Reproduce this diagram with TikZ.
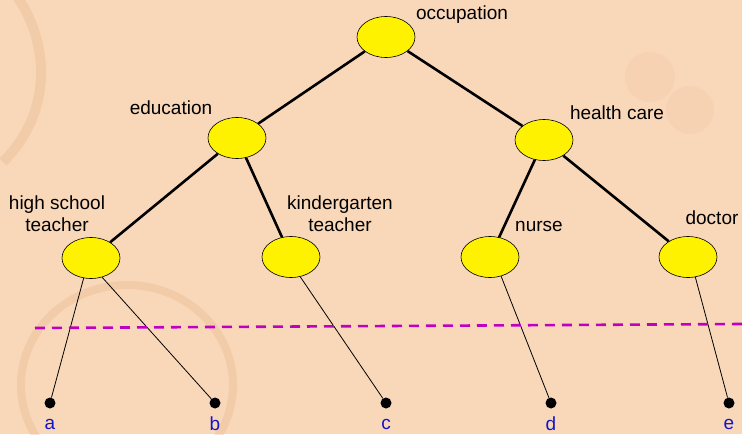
\documentclass[tikz,border=0pt]{standalone}
\usepackage{fontspec}
\setmainfont{Liberation Sans}
\usetikzlibrary{shapes.geometric}
\definecolor{bgc}{HTML}{F9D8BA}
\definecolor{stain}{HTML}{E5B085}
\definecolor{leafblue}{HTML}{1414C8}
\definecolor{cutline}{HTML}{C000C0}
\tikzset{
  cat/.style={ellipse, draw=black, line width=0.6pt, fill=yellow, minimum width=58pt, minimum height=41pt, inner sep=0pt},
  lbl/.style={font=\fontsize{19}{22}\selectfont, text=black, align=center, inner sep=0pt},
  leaf/.style={circle, fill=black, minimum size=11pt, inner sep=0pt},
  leaflbl/.style={font=\fontsize{19}{22}\selectfont, text=leafblue, inner sep=0pt},
  thick edge/.style={line width=2.6pt, black},
  thin edge/.style={line width=0.8pt, black},
  stainline/.style={draw=stain, opacity=0.32}
}
\begin{document}
\begin{tikzpicture}[x=1pt,y=-1pt]
\useasboundingbox (0,0) rectangle (742,434);
\clip (0,0) rectangle (742,434);
\fill[bgc] (0,0) rectangle (742,434);
% stains
\draw[stainline, line width=10pt] (16,-5) .. controls (48,40) and (55,110) .. (3,162);
\draw[stainline, line width=8pt] (127,385) ellipse (106 and 100);
\fill[stain, opacity=0.15] (650,77) circle (25);
\fill[stain, opacity=0.15] (690,110) circle (24);
% category nodes
\node[cat] (occ) at (386,37) {};
\node[cat] (edu) at (237,138) {};
\node[cat] (hc) at (544,140) {};
\node[cat] (hst) at (91,258) {};
\node[cat] (kg) at (291,257) {};
\node[cat] (nur) at (490,257) {};
\node[cat] (doc) at (688,257) {};
% labels
\node[lbl] (occl) at (462,15) {occupation};
\node[lbl] (edul) at (171,108) {education};
\node[lbl] (hcl) at (617,113) {health care};
\node[lbl] (hstl) at (57,214) {high school\\teacher};
\node[lbl] (kgl) at (340,214) {kindergarten\\teacher};
\node[lbl] (nurl) at (539,226) {nurse};
\node[lbl] (docl) at (712,218) {doctor};
% leaves
\node[leaf] (a) at (50,403) {};
\node[leaf] (b) at (215,403) {};
\node[leaf] (c) at (386,403) {};
\node[leaf] (d) at (551,403) {};
\node[leaf] (e) at (729,403) {};
\node[leaflbl] (al) at (50,424) {a};
\node[leaflbl] (bl) at (215,424) {b};
\node[leaflbl] (cl) at (386,424) {c};
\node[leaflbl] (dl) at (551,424) {d};
\node[leaflbl] (el) at (729,424) {e};
% thick edges
\draw[thick edge] (occ) -- (edu);
\draw[thick edge] (occ) -- (hc);
\draw[thick edge] (edu) -- (hst);
\draw[thick edge] (edu) -- (kg);
\draw[thick edge] (hc) -- (nur);
\draw[thick edge] (hc) -- (doc);
% thin edges
\draw[thin edge] (hst.250) -- (a);
\draw[thin edge] (hst.300) -- (b);
\draw[thin edge] (kg.-65) -- (c);
\draw[thin edge] (nur.-60) -- (d);
\draw[thin edge] (doc.-70) -- (e);
% cut line
\coordinate (cutL) at (35,328);
\coordinate (cutR) at (742,324);
\draw[cutline, line width=2.6pt, dash pattern=on 10pt off 7pt] (cutL) -- (cutR);
\end{tikzpicture}
\end{document}
